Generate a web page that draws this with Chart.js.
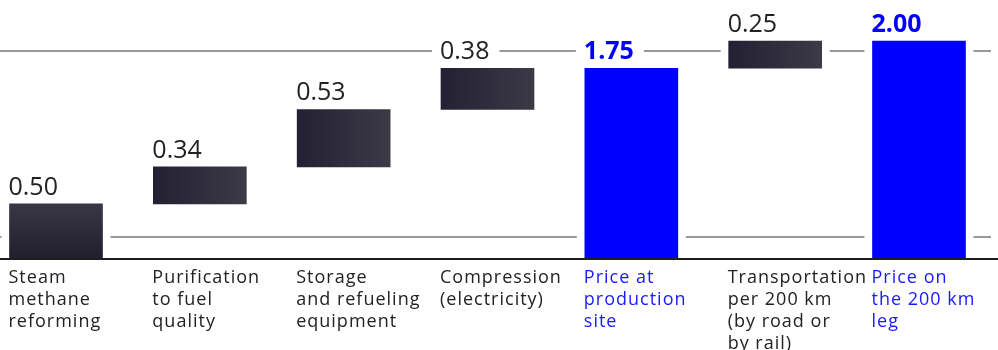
<!DOCTYPE html>
<html>
<head>
<meta charset="utf-8">
<script src="https://cdn.jsdelivr.net/npm/chart.js@4.4.0/dist/chart.umd.min.js"></script>
<style>
  html, body { margin: 0; padding: 0; background: #fff; }
  #wrap { width: 998px; height: 350px; position: relative; }
</style>
</head>
<body>
<div id="wrap"><canvas id="chart"></canvas></div>
<script>
/* ================= DATA ================= */
const categories = [
  ['Steam', 'methane', 'reforming'],
  ['Purification', 'to fuel', 'quality'],
  ['Storage', 'and refueling', 'equipment'],
  ['Compression', '(electricity)'],
  ['Price at', 'production', 'site'],
  ['Transportation', 'per 200 km', '(by road or', 'by rail)'],
  ['Price on', 'the 200 km', 'leg']
];
const values = [0.50, 0.34, 0.53, 0.38, 1.75, 0.25, 2.00];
const isTotal = [false, false, false, false, true, false, true];

/* ================= STYLE ================= */
const BLUE = '#0000ff';
const DARK = '#2c2a3a';
const TEXT = '#222222';
const FONT = '"Open Sans", "Liberation Sans", sans-serif';
const GUIDE_VALUES = [0.19, 1.91];   // the two thin decorative rules

// waterfall: steps float on the running total, totals start at 0
let run = 0;
const bars = values.map((v, i) => {
  if (isTotal[i]) { run = v; return [0, v]; }
  const b = [run, run + v];
  run += v;
  return b;
});

function barBox(bar) {
  const p = bar.getProps(['x', 'y', 'base', 'width'], true);
  return {
    left: p.x - p.width / 2,
    right: p.x + p.width / 2,
    top: Math.min(p.y, p.base),
    bottom: Math.max(p.y, p.base),
    width: p.width
  };
}

function valueFont(i) {
  return (isTotal[i] ? '700 ' : '400 ') + '25px ' + FONT;
}

/* ================= DECOR PLUGIN ================= */
const waterfallDecor = {
  id: 'waterfallDecor',
  beforeDatasetsDraw(chart) {
    const { ctx, width, scales: { y } } = chart;
    const meta = chart.getDatasetMeta(0);

    // gradients on the step bars
    meta.data.forEach((bar, i) => {
      if (isTotal[i]) return;
      const b = barBox(bar);
      let g;
      if (i === 0) {
        g = ctx.createLinearGradient(0, b.top, 0, b.bottom);
        g.addColorStop(0, '#3a3747');
        g.addColorStop(1, '#211e2e');
      } else {
        g = ctx.createLinearGradient(b.left, 0, b.right, 0);
        g.addColorStop(0, '#232033');
        g.addColorStop(1, '#3c3a47');
      }
      bar.options.backgroundColor = g;
    });

    ctx.save();
    // thin rules
    ctx.lineWidth = 2;
    ctx.strokeStyle = '#98989d';
    GUIDE_VALUES.forEach(v => {
      const py = Math.round(y.getPixelForValue(v));
      ctx.beginPath();
      ctx.moveTo(0, py);
      ctx.lineTo(width - 7, py);
      ctx.stroke();
    });

    // knock the rules out around bars and value labels
    ctx.fillStyle = '#ffffff';
    meta.data.forEach((bar, i) => {
      const b = barBox(bar);
      ctx.fillRect(b.left - 8, b.top - 2, b.width + 16, b.bottom - b.top + 4);
      ctx.font = valueFont(i);
      const tw = ctx.measureText(values[i].toFixed(2)).width;
      const base = b.top - 9;
      ctx.fillRect(b.left - 9, base - 21, tw + 18, 25);
    });
    ctx.restore();
  },
  afterDatasetsDraw(chart) {
    const { ctx, width, scales: { y } } = chart;
    const meta = chart.getDatasetMeta(0);
    const zero = y.getPixelForValue(0);

    ctx.save();
    // baseline
    ctx.fillStyle = '#1e1e1e';
    ctx.fillRect(0, Math.round(zero), width, 2);

    meta.data.forEach((bar, i) => {
      const b = barBox(bar);

      // value label
      ctx.font = valueFont(i);
      ctx.fillStyle = isTotal[i] ? BLUE : TEXT;
      ctx.textAlign = 'left';
      ctx.textBaseline = 'alphabetic';
      if ('letterSpacing' in ctx) ctx.letterSpacing = '0px';
      ctx.fillText(values[i].toFixed(2), b.left - 1, b.top - 9);

      // category label
      ctx.font = '400 18px ' + FONT;
      ctx.fillStyle = isTotal[i] ? '#1a1aff' : TEXT;
      if ('letterSpacing' in ctx) ctx.letterSpacing = '1px';
      categories[i].forEach((line, k) => {
        ctx.fillText(line, b.left - 1, zero + 25 + k * 22);
      });
    });
    ctx.restore();
  }
};

/* ================= CHART ================= */
const ctx = document.getElementById('chart').getContext('2d');
new Chart(ctx, {
  type: 'bar',
  data: {
    labels: categories,
    datasets: [{
      data: bars,
      backgroundColor: c => isTotal[c.dataIndex] ? BLUE : DARK,
      borderWidth: 0,
      borderSkipped: false,
      barThickness: 93,
      clip: false
    }]
  },
  options: {
    responsive: true,
    maintainAspectRatio: false,
    animation: false,
    layout: { padding: { left: 56, right: 79, top: 0, bottom: 92 } },
    plugins: {
      legend: { display: false },
      tooltip: { enabled: false }
    },
    scales: {
      x: { display: false, offset: false },
      y: { display: false, min: 0, max: 2.38 }
    }
  },
  plugins: [waterfallDecor]
});
</script>
</body>
</html>
